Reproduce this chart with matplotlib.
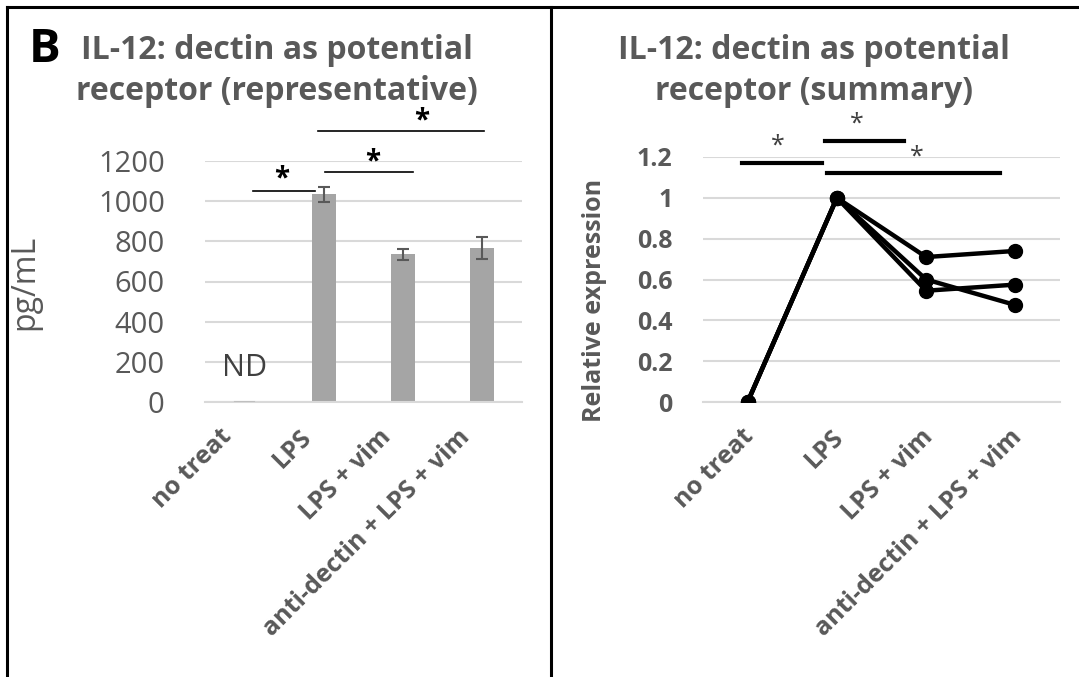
import matplotlib.pyplot as plt
from matplotlib.lines import Line2D
from matplotlib.transforms import ScaledTranslation

plt.rcParams['font.family'] = ['Open Sans', 'DejaVu Sans']

categories = ['no treat', 'LPS', 'LPS + vim', 'anti-dectin + LPS + vim']

# left panel: representative ELISA (pg/mL)
bar_values = [0, 1035, 735, 765]
bar_errors = [0, 37, 27, 55]
left_yticks = [0, 200, 400, 600, 800, 1000, 1200]

# right panel: summary, relative expression per experiment
summary_a = [0, 1, 0.71, 0.74]
summary_b = [0, 1, 0.60, 0.475]
summary_c = [0, 1, 0.545, 0.575]
right_yticks = [0, 0.2, 0.4, 0.6, 0.8, 1, 1.2]
right_ticklabels = ['0', '0.2', '0.4', '0.6', '0.8', '1', '1.2']

# significance brackets: (x start, x end, y, star x, star y)
left_sig = [(0.11, 0.89, 1050, 0.47, 1110),
            (1.01, 2.12, 1145, 1.61, 1195),
            (0.93, 3.02, 1350, 2.24, 1400)]
right_sig = [(-0.06, 0.83, 1.171, 0.34, 1.255),
             (0.87, 1.75, 1.279, 1.22, 1.36),
             (0.89, 2.83, 1.122, 1.90, 1.2)]

GRAY_TXT = '#595959'
GRID = '#d9d9d9'
W, H = 1079, 677

fig = plt.figure(figsize=(W / 100, H / 100), dpi=100)


def px_axes(x0, x1, y_top, y_bot):
    return fig.add_axes([x0 / W, 1 - y_bot / H, (x1 - x0) / W, (y_bot - y_top) / H])


def style_axes(ax, shift_px):
    for s in ['top', 'right', 'left']:
        ax.spines[s].set_visible(False)
    ax.spines['bottom'].set_color(GRID)
    ax.spines['bottom'].set_linewidth(1.5)
    ax.tick_params(length=0)
    ax.grid(axis='y', color=GRID, linewidth=1.5)
    ax.set_axisbelow(True)
    ax.set_xlim(-0.5, len(categories) - 0.5)
    ax.set_xticks(range(len(categories)))
    ax.set_xticklabels(categories, rotation=45, ha='right', rotation_mode='anchor',
                       fontsize=18, fontweight='bold', color=GRAY_TXT)
    ax.tick_params(axis='x', pad=16)
    offset = ScaledTranslation(shift_px / 100, 0, fig.dpi_scale_trans)
    for lab in ax.get_xticklabels():
        lab.set_transform(lab.get_transform() + offset)


# ---- left panel ----
ax1 = px_axes(205, 522, 161, 402)
style_axes(ax1, -25)
x = list(range(len(categories)))
ax1.bar(x, bar_values, width=0.3, color='#a5a5a5', zorder=2)
ax1.errorbar(x[1:], bar_values[1:], yerr=bar_errors[1:], fmt='none', ecolor='#595959',
             elinewidth=1.5, capsize=4, capthick=1.5, zorder=3)
ax1.plot([-0.12, 0.12], [0, 0], color='#bfbfbf', linewidth=1.5, zorder=3)
ax1.set_ylim(0, 1200)
ax1.set_yticks(left_yticks)
ax1.set_yticklabels([str(v) for v in left_yticks], fontsize=21, color=GRAY_TXT)
ax1.tick_params(axis='y', pad=29)
ax1.set_ylabel('pg/mL', fontsize=23, color=GRAY_TXT)
ax1.yaxis.set_label_coords(-0.517, 0.498)
ax1.text(0, 170, 'ND', fontsize=22, color='#404040', ha='center', va='center')
for x0, x1, y, sx, sy in left_sig:
    ax1.plot([x0, x1], [y, y], color='black', linewidth=1.2, clip_on=False)
    ax1.text(sx, sy, '*', fontsize=20, fontweight='bold', color='black',
             ha='center', va='center', clip_on=False)

# ---- right panel ----
ax2 = px_axes(703, 1060, 157, 402)
style_axes(ax2, -6)
for series in [summary_a, summary_b, summary_c]:
    ax2.plot(x, series, color='black', linewidth=3.2, marker='o', markersize=10, zorder=3)
ax2.set_ylim(0, 1.2)
ax2.set_yticks(right_yticks)
ax2.set_yticklabels(right_ticklabels, fontsize=18, fontweight='bold', color=GRAY_TXT)
ax2.tick_params(axis='y', pad=22)
ax2.set_ylabel('Relative expression', fontsize=18, fontweight='bold', color=GRAY_TXT)
ax2.yaxis.set_label_coords(-0.269, 0.416)
for x0, x1, y, sx, sy in right_sig:
    ax2.plot([x0, x1], [y, y], color='black', linewidth=3, clip_on=False)
    ax2.text(sx, sy, '*', fontsize=18, color='#404040',
             ha='center', va='center', clip_on=False)

# titles and panel letter
fig.text(277 / W, 1 - 71 / H, 'IL-12: dectin as potential\nreceptor (representative)',
         fontsize=23, fontweight='bold', color=GRAY_TXT, ha='center', va='center',
         linespacing=1.3)
fig.text(814 / W, 1 - 71 / H, 'IL-12: dectin as potential\nreceptor (summary)',
         fontsize=23, fontweight='bold', color=GRAY_TXT, ha='center', va='center',
         linespacing=1.3)
fig.text(45 / W, 1 - 50 / H, 'B', fontsize=34, fontweight='bold', color='black',
         ha='center', va='center')

# frame lines
fig.add_artist(Line2D([7 / W, 1], [1 - 7 / H, 1 - 7 / H], color='black', linewidth=2.2))
fig.add_artist(Line2D([7 / W, 7 / W], [0, 1 - 7 / H], color='black', linewidth=2.2))
fig.add_artist(Line2D([551 / W, 551 / W], [0, 1 - 7 / H], color='black', linewidth=2.2))

fig.savefig('out.png', dpi=100)
